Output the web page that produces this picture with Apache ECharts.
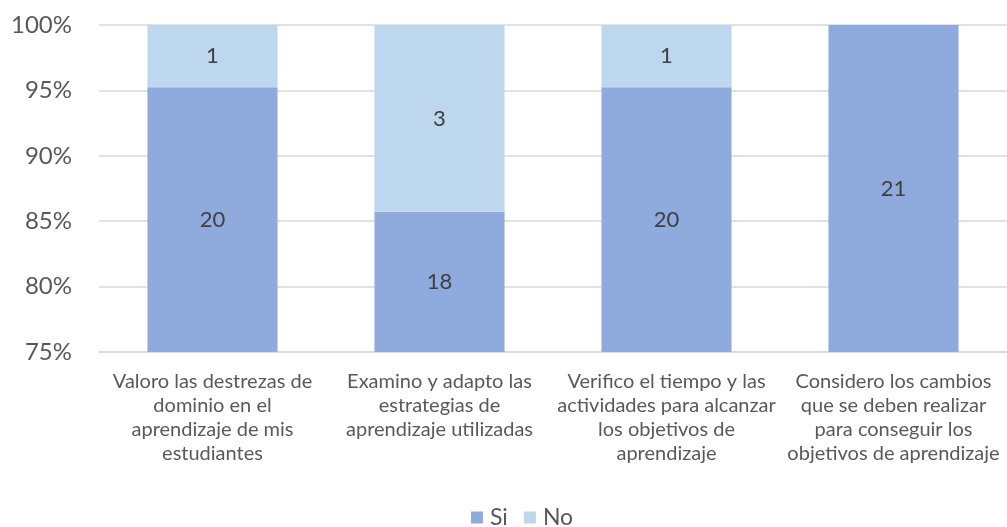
<!DOCTYPE html>
<html><head><meta charset="utf-8">
<script src="https://cdn.jsdelivr.net/npm/echarts@6/dist/echarts.min.js"></script>
<style>html,body{margin:0;padding:0;background:#fff}#c{width:1007px;height:527px}</style>
</head><body><div id="c"></div>
<script>
const categories = [
  "Valoro las destrezas de\ndominio en el\naprendizaje de mis\nestudiantes",
  "Examino y adapto las\nestrategias de\naprendizaje utilizadas",
  "Verifico el tiempo y las\nactividades para alcanzar\nlos objetivos de\naprendizaje",
  "Considero los cambios\nque se deben realizar\npara conseguir los\nobjetivos de aprendizaje"
];
const siCounts = [20, 18, 20, 21];
const noCounts = [1, 3, 1, 0];
const yTicks = [75, 80, 85, 90, 95, 100];

const totals = siCounts.map((v, i) => v + noCounts[i]);
const siPct = siCounts.map((v, i) => v / totals[i] * 100);
const noPct = noCounts.map((v, i) => v / totals[i] * 100);

const font = 'Lato';
const txt = '#595959';
const chart = echarts.init(document.getElementById('c'));
chart.setOption({
  animation: false,
  textStyle: { fontFamily: font },
  grid: { left: 99, right: -6, top: 25, bottom: 175 },
  legend: {
    top: 501, left: 466, itemWidth: 12, itemHeight: 12, itemGap: 16,
    icon: 'rect',
    textStyle: { fontFamily: font, fontSize: 23, color: txt, padding: [0, 0, 0, 2] },
    data: ['Si', 'No']
  },
  xAxis: {
    type: 'category', data: categories,
    axisLine: { lineStyle: { color: '#d9d9d9', width: 1.5 } },
    axisTick: { show: false },
    axisLabel: { fontFamily: font, fontSize: 20, color: txt, lineHeight: 24, margin: 18, interval: 0 }
  },
  yAxis: {
    type: 'value', min: yTicks[0], max: yTicks[yTicks.length - 1], interval: 5,
    axisLabel: { formatter: '{value}%', fontFamily: font, fontSize: 24, color: txt, margin: 27 },
    splitLine: { lineStyle: { color: '#d9d9d9', width: 1.5 } },
    axisLine: { show: false }, axisTick: { show: false }
  },
  series: [
    {
      name: 'Si', type: 'bar', stack: 'a', barWidth: '57.3%',
      itemStyle: { color: '#8FAADC' },
      data: siPct,
      label: { show: true, position: 'inside', fontFamily: font, fontSize: 22, color: '#404040',
        formatter: p => siCounts[p.dataIndex] ? String(siCounts[p.dataIndex]) : '' }
    },
    {
      name: 'No', type: 'bar', stack: 'a', barWidth: '57.3%',
      itemStyle: { color: '#BDD7EE' },
      data: noPct,
      label: { show: true, position: 'inside', fontFamily: font, fontSize: 22, color: '#404040',
        formatter: p => noCounts[p.dataIndex] ? String(noCounts[p.dataIndex]) : '' }
    }
  ]
});
</script></body></html>
